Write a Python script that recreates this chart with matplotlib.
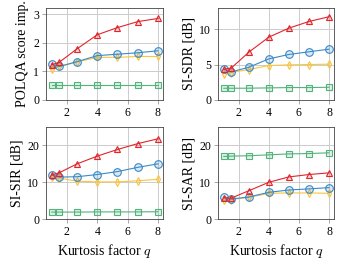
import matplotlib
matplotlib.use("Agg")
import matplotlib.pyplot as plt

plt.rcParams['font.family'] = ['Liberation Serif', 'DejaVu Serif']
plt.rcParams['mathtext.fontset'] = 'cm'

# kurtosis factor values
q = [1, 1.5, 2.67, 4, 5.33, 6.67, 8]

# POLQA score improvement
polqa_red = [1.23, 1.32, 1.79, 2.28, 2.53, 2.74, 2.85]
polqa_blue = [1.25, 1.17, 1.34, 1.55, 1.60, 1.65, 1.72]
polqa_yellow = [1.07, 1.17, 1.33, 1.49, 1.49, 1.52, 1.52]
polqa_green = [0.51, 0.51, 0.51, 0.51, 0.51, 0.51, 0.51]

# SI-SDR
sdr_red = [4.34, 4.5, 6.75, 8.87, 10.14, 11.08, 11.75]
sdr_blue = [4.34, 3.96, 4.62, 5.8, 6.42, 6.8, 7.17]
sdr_yellow = [3.73, 3.87, 4.29, 4.86, 4.95, 5.0, 5.05]
sdr_green = [1.65, 1.65, 1.66, 1.7, 1.75, 1.75, 1.79]

# SI-SIR
sir_red = [11.98, 12.6, 15.0, 17.1, 18.9, 20.5, 21.8]
sir_blue = [12.0, 11.4, 11.5, 12.1, 12.9, 14.05, 15.0]
sir_yellow = [11.3, 11.1, 10.3, 10.1, 10.1, 10.4, 10.8]
sir_green = [1.9, 1.9, 1.9, 1.95, 1.95, 1.95, 2.0]

# SI-SAR
sar_red = [5.8, 5.7, 7.7, 10.0, 11.45, 12.1, 12.55]
sar_blue = [5.9, 5.45, 6.0, 7.27, 7.9, 8.2, 8.55]
sar_yellow = [5.1, 5.3, 5.9, 7.0, 7.1, 7.1, 7.0]
sar_green = [17.0, 17.1, 17.2, 17.45, 17.7, 17.8, 18.0]

red = '#e3242b'
blue = '#3a8ac8'
yellow = '#f9c440'
green = '#52b37c'

panels = [
    ('POLQA score imp.', [polqa_green, polqa_yellow, polqa_blue, polqa_red], 3.22, [0, 1, 2, 3]),
    ('SI-SDR [dB]', [sdr_green, sdr_yellow, sdr_blue, sdr_red], 13, [0, 5, 10]),
    ('SI-SIR [dB]', [sir_green, sir_yellow, sir_blue, sir_red], 25, [0, 10, 20]),
    ('SI-SAR [dB]', [sar_green, sar_yellow, sar_blue, sar_red], 25, [0, 10, 20]),
]
styles = [(green, 's', 5), (yellow, 'd', 4), (blue, 'o', 5.5), (red, '^', 5)]

fig = plt.figure(figsize=(3.37, 2.63), dpi=100)
boxes = [
    [0.1365, 0.620, 0.347, 0.350],
    [0.647, 0.620, 0.344, 0.350],
    [0.1365, 0.167, 0.347, 0.350],
    [0.647, 0.167, 0.344, 0.350],
]

for i, (label, series, ymax, yticks) in enumerate(panels):
    ax = fig.add_axes(boxes[i])
    for ys, (c, m, ms) in zip(series, styles):
        ax.plot(q, ys, color=c, marker=m, markersize=ms, linewidth=0.8,
                markerfacecolor=matplotlib.colors.to_rgba(c, 0.18),
                markeredgecolor=c, markeredgewidth=0.8)
    ax.set_xlim(0.62, 8.33)
    ax.set_ylim(0, ymax)
    ax.set_xticks([2, 4, 6, 8])
    ax.set_yticks(yticks)
    ax.grid(True, color='#cccccc', linewidth=0.7)
    ax.set_axisbelow(True)
    ax.tick_params(labelsize=8.5, length=3, width=0.6, color='#999999', pad=2)
    for s in ax.spines.values():
        s.set_color('#444444')
        s.set_linewidth(0.6)
    ax.set_ylabel(label, fontsize=10, labelpad=3)
    if i >= 2:
        ax.set_xlabel('Kurtosis factor $q$', fontsize=10, labelpad=3)

fig.savefig('out.png', dpi=100)
